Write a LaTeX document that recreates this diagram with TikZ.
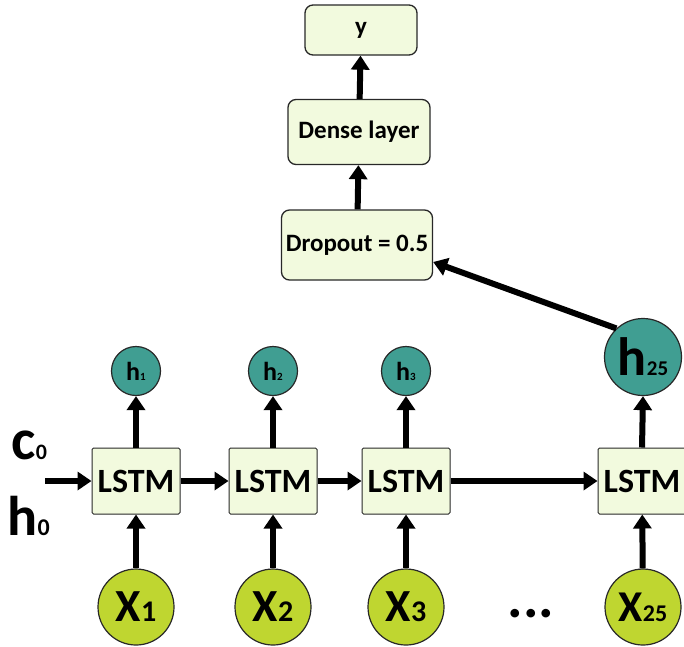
\documentclass[tikz,border=0pt]{standalone}
\usepackage{fontspec}
\setmainfont{Carlito}
\usetikzlibrary{arrows.meta}
\definecolor{boxfill}{RGB}{242,250,222}
\definecolor{hteal}{RGB}{64,158,146}
\definecolor{xlime}{RGB}{191,214,48}
\definecolor{edge}{RGB}{40,40,40}
\tikzset{
  fs/.style={font=\fontsize{#1}{#1}\selectfont\bfseries},
  topbox/.style={draw=edge, line width=1.3pt, fill=boxfill, rounded corners=8pt, inner sep=0pt, fs=25},
  lstm/.style={draw=edge, line width=1pt, fill=boxfill, rounded corners=1.5pt, minimum width=88pt, minimum height=66pt, inner sep=0pt, fs=34},
  hsmall/.style={circle, draw=edge, line width=1.2pt, fill=hteal, minimum size=49pt, inner sep=0pt},
  hbig/.style={circle, draw=edge, line width=1.2pt, fill=hteal, minimum size=77pt, inner sep=0pt},
  xin/.style={circle, draw=edge, line width=1.2pt, fill=xlime, minimum size=76pt, inner sep=0pt},
  arr/.style={line width=6pt, -{Triangle[length=14pt,width=18pt]}},
}
\newcommand{\lab}[4]{{\fontsize{#2}{#2}\selectfont\bfseries #1}{\fontsize{#4}{#4}\selectfont\bfseries #3}}
\begin{document}
\begin{tikzpicture}[x=1pt,y=-1pt]
\useasboundingbox (0,0) rectangle (684,646);

% output stack
\node[topbox, minimum width=112pt, minimum height=50pt] (y) at (361,30) {y};
\node[topbox, minimum width=142pt, minimum height=65pt] (dense) at (359,132) {Dense layer};
\node[topbox, minimum width=151pt, minimum height=70pt] (drop) at (357,245) {Dropout = 0.5};

% LSTM chain
\node[lstm] (l1) at (136,481) {LSTM};
\node[lstm] (l2) at (273,481) {LSTM};
\node[lstm] (l3) at (406,481) {LSTM};
\node[lstm] (l25) at (642,481) {LSTM};

% hidden states
\node[hsmall] (h1) at (136,371) {\lab{h}{26}{1}{11}};
\node[hsmall] (h2) at (273,371) {\lab{h}{26}{2}{11}};
\node[hsmall] (h3) at (406,371) {\lab{h}{26}{3}{11}};
\node[hbig] (h25) at (643,357) {\lab{h}{54}{25}{21}};

% inputs
\node[xin] (x1) at (136,607) {\lab{X}{46}{1}{30}};
\node[xin] (x2) at (273,607) {\lab{X}{46}{2}{30}};
\node[xin] (x3) at (406,607) {\lab{X}{46}{3}{30}};
\node[xin] (x25) at (643,607) {\lab{X}{44}{25}{24}};
\node[fs=58] (dots) at (531,614) {...};

% initial states
\node[anchor=west] (c0) at (8,445) {\lab{c}{58}{0}{22}};
\node[anchor=west] (h0) at (4,516) {\lab{h}{56}{0}{24}};
\coordinate (in) at (45,481);

% connectors
\draw[arr] (in) -- (l1.west);
\draw[arr] (l1) -- (l2);
\draw[arr] (l2) -- (l3);
\draw[arr] (l3) -- (l25);
\foreach \i in {1,2,3,25} {
  \draw[arr] (x\i) -- (l\i);
}
\draw[arr] (l1) -- (h1);
\draw[arr] (l2) -- (h2);
\draw[arr] (l3) -- (h3);
\draw[arr] (l25.north) -- (h25.south);
\draw[arr] (h25.133) -- ([yshift=-17pt]drop.east);
\draw[arr] (drop) -- (dense);
\draw[arr] (dense) -- (y);
\end{tikzpicture}
\end{document}
